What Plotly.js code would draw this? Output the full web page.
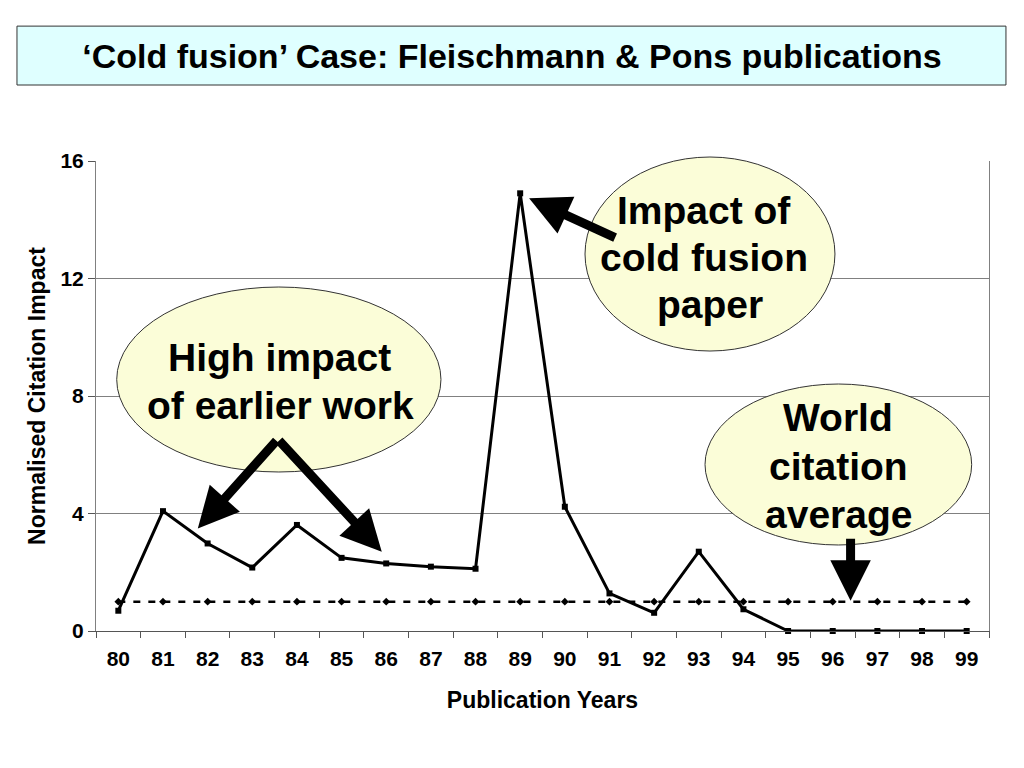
<!DOCTYPE html>
<html>
<head>
<meta charset="utf-8">
<script src="https://cdn.plot.ly/plotly-3.0.1.min.js"></script>
<style>
  html, body { margin: 0; padding: 0; background: #ffffff; }
  #chart { width: 1024px; height: 768px; }
</style>
</head>
<body>
<div id="chart"></div>
<script>
// ---- Data ----
var years = ['80','81','82','83','84','85','86','87','88','89','90','91','92','93','94','95','96','97','98','99'];
var fpImpact = [0.69, 4.08, 2.98, 2.16, 3.61, 2.49, 2.30, 2.19, 2.12, 14.9, 4.23, 1.28, 0.62, 2.70, 0.74, 0, 0, 0, 0, 0];
var worldAverage = [1, 1, 1, 1, 1, 1, 1, 1, 1, 1, 1, 1, 1, 1, 1, 1, 1, 1, 1, 1];
var yTicks = [0, 4, 8, 12, 16];

var chartTitle = '\u2018Cold fusion\u2019 Case: Fleischmann &amp; Pons publications';
var xTitle = 'Publication Years';
var yTitle = 'Normalised Citation Impact';
var bubble1Lines = ['High impact', 'of earlier work'];
var bubble2Lines = ['Impact of', 'cold fusion', 'paper'];
var bubble3Lines = ['World', 'citation', 'average'];

var FONT = 'Liberation Sans, Arial, Helvetica, sans-serif';

var traces = [
  {
    x: years, y: worldAverage, type: 'scatter', mode: 'lines+markers',
    line: {color: '#000000', width: 2.5, dash: '7px,8px'},
    marker: {symbol: 'diamond', size: 6, color: '#000000'},
    cliponaxis: false, hoverinfo: 'skip'
  },
  {
    x: years, y: fpImpact, type: 'scatter', mode: 'lines+markers',
    line: {color: '#000000', width: 3},
    marker: {symbol: 'square', size: 6, color: '#000000'},
    cliponaxis: false, hoverinfo: 'skip'
  }
];

var ellipseStyle = {type: 'circle', xref: 'paper', yref: 'paper', fillcolor: '#FBFDD8',
  line: {color: '#333333', width: 1}, layer: 'above'};

var shapes = [
  // title box
  {type: 'rect', xref: 'paper', yref: 'paper', x0: -0.0885, x1: 1.019, y0: 1.1617, y1: 1.287,
   fillcolor: '#DFFFFF', line: {color: '#333333', width: 1}, layer: 'below'},
  Object.assign({}, ellipseStyle, {x0: 0.0232, x1: 0.3863, y0: 0.3383, y1: 0.7319}),
  Object.assign({}, ellipseStyle, {x0: 0.5476, x1: 0.8275, y0: 0.5957, y1: 1.0085}),
  Object.assign({}, ellipseStyle, {x0: 0.682, x1: 0.9806, y0: 0.183, y1: 0.5255})
];

function arrow(tx, ty, ax, ay) {
  return {x: tx, y: ty, ax: ax, ay: ay, xref: 'x', yref: 'y', axref: 'x', ayref: 'y',
    text: '', showarrow: true, arrowhead: 2, arrowsize: 0.9, arrowwidth: 9,
    arrowcolor: '#000000', standoff: 0, startstandoff: 0};
}

// paper coords: x = (px-96)/893, y = (631-py)/470
function lineText(t, px, py) {
  return {text: t, x: (px - 96) / 893, y: (631 - py) / 470, xref: 'paper', yref: 'paper',
    xanchor: 'center', yanchor: 'middle', showarrow: false, align: 'center',
    font: {family: FONT, size: 39, color: '#000000', weight: 'bold'}};
}

var annotations = [
  lineText(bubble1Lines[0], 279, 357),
  lineText(bubble1Lines[1], 280, 405),
  lineText(bubble2Lines[0], 704, 210),
  lineText(bubble2Lines[1], 704, 257),
  lineText(bubble2Lines[2], 710, 304),
  lineText(bubble3Lines[0], 838, 417),
  lineText(bubble3Lines[1], 838, 466),
  lineText(bubble3Lines[2], 838, 514),
  arrow(1.78, 3.49, 3.57, 6.53),
  arrow(5.90, 2.70, 3.57, 6.53),
  arrow(9.20, 14.73, 11.16, 13.37),
  arrow(16.40, 1.03, 16.40, 3.19)
];

var layout = {
  width: 1024, height: 768,
  margin: {l: 96, r: 35, t: 161, b: 137},
  paper_bgcolor: '#ffffff', plot_bgcolor: '#ffffff',
  showlegend: false,
  font: {family: FONT, color: '#000000'},
  title: {
    text: chartTitle, x: 0.5, xref: 'container', xanchor: 'center',
    y: 0.927, yref: 'container', yanchor: 'middle',
    font: {family: FONT, size: 34, color: '#000000', weight: 'bold'}
  },
  xaxis: {
    type: 'category', categoryorder: 'array', categoryarray: years,
    range: [-0.5, 19.5], tickson: 'boundaries',
    ticks: 'outside', ticklen: 6, tickcolor: '#555555', tickwidth: 1,
    showline: true, linecolor: '#555555', linewidth: 1,
    showgrid: false, zeroline: false,
    ticklabelstandoff: 9,
    tickfont: {family: FONT, size: 21, color: '#000000', weight: 'bold'},
    title: {text: xTitle, standoff: 22, font: {family: FONT, size: 23, color: '#000000', weight: 'bold'}}
  },
  yaxis: {
    range: [0, 16], tickvals: yTicks, ticktext: yTicks.map(String),
    ticks: 'outside', ticklen: 7, tickcolor: '#555555', tickwidth: 1,
    showline: true, linecolor: '#808080', linewidth: 1, mirror: true,
    showgrid: true, gridcolor: '#808080', gridwidth: 1, zeroline: false,
    tickfont: {family: FONT, size: 21, color: '#000000', weight: 'bold'},
    title: {text: yTitle, standoff: 8, font: {family: FONT, size: 23, color: '#000000', weight: 'bold'}}
  },
  shapes: shapes,
  annotations: annotations
};

Plotly.newPlot('chart', traces, layout, {displayModeBar: false, staticPlot: true});
</script>
</body>
</html>
